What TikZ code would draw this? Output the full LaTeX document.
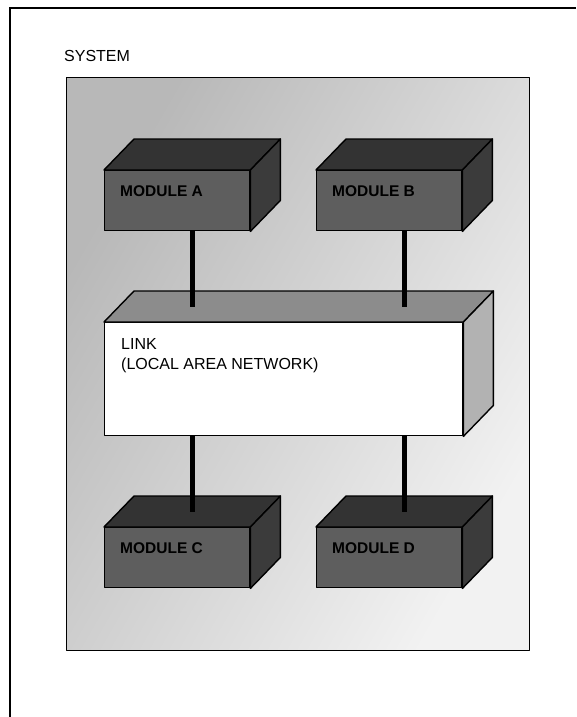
\documentclass[tikz,border=0pt]{standalone}
\usepackage{fontspec}
\setmainfont{Liberation Sans}
\usetikzlibrary{calc,positioning}
\definecolor{ModFront}{gray}{0.37}
\definecolor{ModTop}{gray}{0.20}
\definecolor{ModSide}{gray}{0.23}
\definecolor{LinkTop}{gray}{0.55}
\definecolor{LinkSide}{gray}{0.70}
\definecolor{PanelDark}{gray}{0.72}
\definecolor{PanelLight}{gray}{0.95}

% depth of the boxes (screen offset of the back faces)
\def\depx{30}
\def\depy{31}
\tikzset{
  boxline/.style={draw=black, line width=1.4pt, line join=round}
}
% top and right faces of a box whose front face is node #1
\newcommand\boxfaces[3]{%
  \filldraw[boxline, fill=#2] (#1.north west) -- ++(\depx,-\depy)
    -- ($(#1.north east)+(\depx,-\depy)$) -- (#1.north east) -- cycle;
  \filldraw[boxline, fill=#3] (#1.north east) -- ++(\depx,-\depy)
    -- ($(#1.south east)+(\depx,-\depy)$) -- (#1.south east) -- cycle;}

\begin{document}
\begin{tikzpicture}[x=1pt, y=-1pt,
    frame/.style={draw=black, line width=1.1pt},
    panel/.style={boxline, anchor=north west, inner sep=0pt, minimum width=463pt, minimum height=573pt,
      left color=PanelDark, right color=PanelLight, shading angle=60},
    modface/.style={boxline, fill=ModFront, anchor=north west, inner sep=0pt, minimum width=145pt, minimum height=60pt},
    linkface/.style={boxline, fill=white, anchor=north west, inner sep=0pt, minimum width=358pt, minimum height=113pt},
    boxtext/.style={inner sep=0pt, anchor=north west, align=left, font=\fontsize{16}{20}\selectfont},
    modtext/.style={boxtext, font=\fontsize{15.5}{20}\selectfont\bfseries},
    bus/.style={draw=black, line width=5pt}
  ]
  \useasboundingbox (0,0) rectangle (576,717);
  \draw[frame] (10,717) -- (10,8) -- (576,8);
  \node[boxtext] (systxt) at (64,50) {SYSTEM};
  \node[panel] (sys) at (66,77) {};

  % link
  \node[linkface] (link) at (104,322) {};
  \boxfaces{link}{LinkTop}{LinkSide}
  \node[boxtext] (linktxt) at ($(link.north west)+(17,16)$) {LINK\\(LOCAL AREA NETWORK)};

  % modules
  \node[modface] (modA) at (104,170) {};
  \node[modface] (modB) at (316,170) {};
  \node[modface] (modC) at (104,527) {};
  \node[modface] (modD) at (316,527) {};
  \foreach \m/\t in {modA/A, modB/B, modC/C, modD/D} {
    \boxfaces{\m}{ModTop}{ModSide}
    \node[modtext] (\m-txt) at ($(\m.north west)+(16,15)$) {MODULE \t};
  }

  % connections to the link
  \coordinate (linktop) at ($(link.north)+(0,-\depy/2)$);
  \foreach \m in {modA, modB} {
    \coordinate (\m-bot) at ($(\m.south)+(\depx/2,0)$);
    \draw[bus] (\m-bot) -- (\m-bot |- linktop);
  }
  \foreach \m in {modC, modD} {
    \coordinate (\m-top) at ($(\m.north)+(\depx/2,-\depy/2)$);
    \draw[bus] (\m-top) -- (\m-top |- link.south);
  }
\end{tikzpicture}
\end{document}
